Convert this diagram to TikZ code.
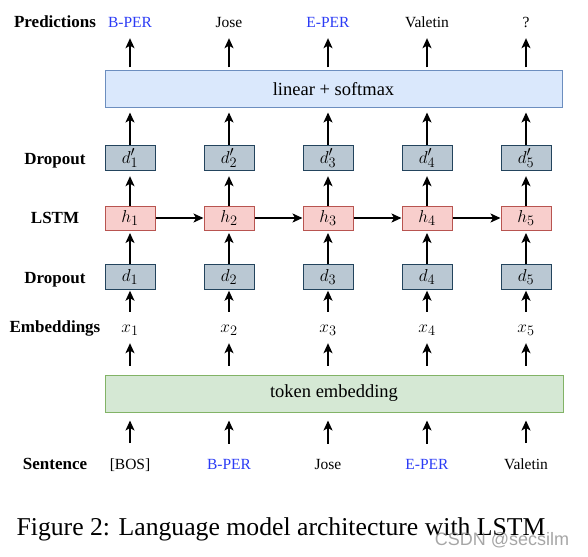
\documentclass[tikz,border=0pt]{standalone}
\usepackage{fontspec}
\setmainfont{Liberation Serif}
\newfontfamily\wmfont{Liberation Sans}
\usetikzlibrary{arrows.meta}
\definecolor{linfill}{HTML}{DAE8FC}
\definecolor{lindraw}{HTML}{6C8EBF}
\definecolor{tokfill}{HTML}{D5E8D4}
\definecolor{tokdraw}{HTML}{82B366}
\definecolor{lstmfill}{HTML}{F8CECC}
\definecolor{lstmdraw}{HTML}{B85450}
\definecolor{dropfill}{HTML}{BAC8D3}
\definecolor{dropdraw}{HTML}{23445D}
\definecolor{tagblue}{HTML}{2B3BF5}
\begin{document}
\begin{tikzpicture}[x=1pt,y=-1pt,
  rowlbl/.style={anchor=base,inner sep=0pt,text depth=3.5pt,font=\fontsize{17}{20}\selectfont\bfseries},
  word/.style={anchor=base,inner sep=0pt,text depth=3pt,font=\fontsize{15.5}{18}\selectfont},
  tag/.style={word,text=tagblue},
  mlbl/.style={anchor=base,inner sep=0pt,text height=8pt,text depth=4pt,font=\fontsize{19}{22}\selectfont},
  cell/.style={minimum width=50pt,inner sep=0pt,line width=1pt,font=\fontsize{19}{22}\selectfont},
  dbox/.style={cell,draw=dropdraw,fill=dropfill,minimum height=25pt},
  hbox/.style={cell,draw=lstmdraw,fill=lstmfill,minimum height=24pt},
  bigbox/.style={minimum height=37pt,inner sep=0pt,line width=1pt,font=\fontsize{18.5}{21}\selectfont},
  arr/.style={-{Stealth[length=10pt,width=9pt,inset=2.5pt]},line width=1.3pt}
]
\useasboundingbox (0,0) rectangle (588,556);

% big boxes
\node[bigbox,draw=lindraw,fill=linfill,minimum width=457pt] (lin) at (333.5,89.5) {linear + softmax};
\node[bigbox,draw=tokdraw,fill=tokfill,minimum width=458pt] (tok) at (334,393.5) {token embedding};

% row labels
\node[rowlbl] (lpred) at (55,28) {Predictions};
\node[rowlbl] (ldrop1) at (55,164.5) {Dropout};
\node[rowlbl] (llstm) at (55,223.5) {LSTM};
\node[rowlbl] (ldrop2) at (55,283) {Dropout};
\node[rowlbl] (lemb) at (55,332) {Embeddings};
\node[rowlbl] (lsent) at (55,469) {Sentence};

% predictions
\node[tag]  (p1) at (130,28) {B-PER};
\node[word] (p2) at (229,28) {Jose};
\node[tag]  (p3) at (328,28) {E-PER};
\node[word] (p4) at (427,28) {Valetin};
\node[word] (p5) at (526,28) {?};

% sentence
\node[word] (s1) at (130,469) {[BOS]};
\node[tag]  (s2) at (229,469) {B-PER};
\node[word] (s3) at (328,469) {Jose};
\node[tag]  (s4) at (427,469) {E-PER};
\node[word] (s5) at (526,469) {Valetin};

\foreach \i/\x in {1/130,2/229,3/328,4/427,5/526}{
  \node[dbox] (dp\i) at (\x,158.2) {$d'_{\i}$};
  \node[hbox] (h\i) at (\x,218) {$h_{\i}$};
  \node[dbox] (d\i) at (\x,277.2) {$d_{\i}$};
  \node[mlbl] (x\i) at (\x,332) {$x_{\i}$};
  \coordinate (lt\i) at (lin.north -| h\i);
  \coordinate (lb\i) at (lin.south -| h\i);
  \coordinate (tt\i) at (tok.north -| h\i);
  \coordinate (tb\i) at (tok.south -| h\i);
  \draw[arr,shorten <=3pt,shorten >=7pt] (lt\i) -- (p\i.south);
  \draw[arr,shorten >=4pt] (dp\i.north) -- (lb\i);
  \draw[arr,shorten >=5pt] (h\i.north) -- (dp\i.south);
  \draw[arr,shorten >=2.5pt] (d\i.north) -- (h\i.south);
  \draw[arr,shorten <=12pt,shorten >=0.5pt] (x\i.north) -- (d\i.south);
  \draw[arr,shorten <=9pt,shorten >=7pt] (tt\i) -- (x\i.south);
  \draw[arr,shorten <=15pt,shorten >=8pt] (s\i.north) -- (tb\i);
}
\foreach \i/\j in {1/2,2/3,3/4,4/5}{
  \draw[arr] (h\i.east) -- (h\j.west);
}

% caption
\node[anchor=base,inner sep=0pt,font=\fontsize{25.7}{30}\selectfont] (cap) at (281,535) {Figure 2: Language model architecture with LSTM};
\node[anchor=base,inner sep=0pt,text=gray,opacity=0.7,font=\wmfont\fontsize{18}{21}\selectfont] (wm) at (502,545) {CSDN @secsilm};
\end{tikzpicture}
\end{document}
